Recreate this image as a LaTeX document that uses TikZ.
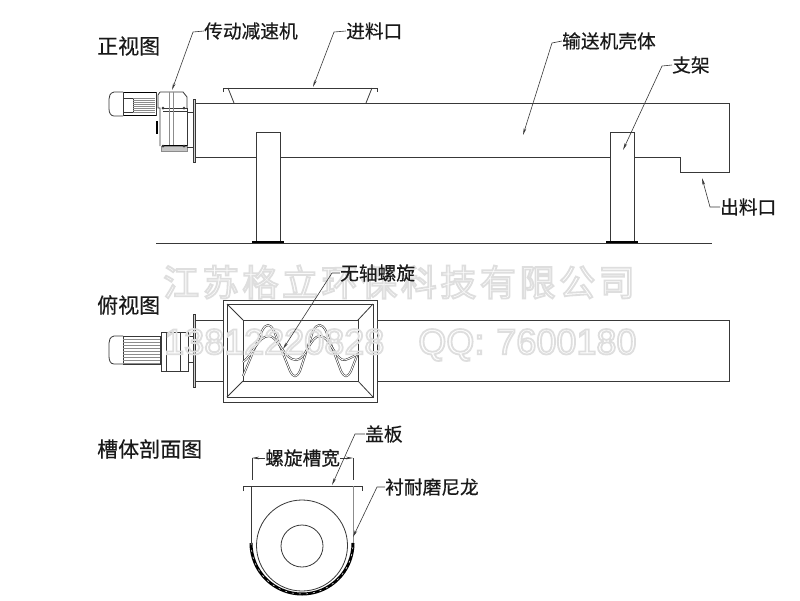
\documentclass[tikz,border=0pt]{standalone}
\usepackage{fontspec}
\setmainfont{Noto Sans CJK SC}
\newfontfamily\labfont[FakeBold=0.4]{Noto Sans CJK SC}
\newfontfamily\wmcjk[LetterSpace=10]{Noto Sans CJK SC}
\newfontfamily\wmlat{Liberation Sans}
\usetikzlibrary{arrows.meta}
\definecolor{ink}{gray}{0.22}
\definecolor{soft}{gray}{0.55}
\newcommand{\hollowon}{\special{pdf:code q 1 Tr 1.8 w 0.87 0.87 0.87 RG}}
\newcommand{\hollowoff}{\special{pdf:code Q}}
\tikzset{
  ln/.style={draw=ink,line width=0.8pt},
  thin ln/.style={draw=soft,line width=0.6pt},
  heavy/.style={draw=black,line width=1.6pt},
  leader/.style={draw=ink,line width=0.6pt,-{Stealth[length=7pt,width=2.6pt]}},
  lab/.style={anchor=west,inner sep=0pt,font=\labfont\fontsize{18.7}{19}\selectfont,text=black!90},
  ttl/.style={anchor=west,inner sep=0pt,font=\labfont\fontsize{21}{22}\selectfont,text=black!90},
}
\begin{document}
\begin{tikzpicture}[x=1pt,y=-1pt]
\useasboundingbox (0,0) rectangle (800,600);
\fill[white] (0,0) rectangle (800,600);

% ---- front view
\draw[ln] (156,243) -- (712,243);
\draw[ln] (196,103) -- (729,103) -- (729,172) -- (680,172) -- (680,157) -- (634,157);
\draw[ln] (610,157) -- (280,157);
\draw[ln] (256,157) -- (196,157);
\draw[ln,fill=white] (256,243) -- (256,132) -- (280,132) -- (280,243);
\draw[ln,fill=white] (610,243) -- (610,132) -- (634,132) -- (634,243);
\draw[heavy] (252,242) -- (284,242);
\draw[heavy] (606,242) -- (638,242);
\draw[ln] (223,92) -- (223,88) -- (377,88) -- (377,92);
\draw[ln] (228,88) -- (234,103);
\draw[ln] (372,88) -- (366,103);
\draw[ln,fill=soft!40] (193,99) rectangle (195.5,162);
% motor front
\draw[ln] (123,92) -- (114,92) .. controls (110,93) and (109,96) .. (109,99) -- (109,109) .. controls (109,113) and (111,116) .. (114,116) -- (123,116);
\draw[ln] (123,98) rectangle (133,112);
\draw[heavy] (123,92.5) -- (156,92.5);
\draw[heavy] (123,115.5) -- (156,115.5);
\draw[ln] (123,92) -- (123,116);
\draw[ln] (156,92) -- (156,116);
\foreach \yy in {98,100,...,112} \draw[thin ln] (133,\yy) -- (155,\yy);
% gearbox front
\draw[ln] (160,92) -- (183,92) -- (187,97) -- (187,108);
\draw[ln] (160,92) -- (158,95) -- (158,108) -- (160,108) -- (160,146);
\draw[ln] (163,108) -- (187,108);
\draw[ln] (163,111) -- (187,111);
\draw[ln] (187,108) -- (187,146);
\draw[thin ln] (169,92) -- (169,146);
\draw[thin ln] (173,92) -- (173,146);
\draw[heavy] (162,145.5) -- (187,145.5);
\draw[thin ln,fill=soft!50] (161,146) rectangle (187,151);
\draw[heavy] (157,121) -- (157,134);
\draw[ln] (187,112) -- (193,112);
\draw[ln] (187,147) -- (193,147);
\fill[ink] (163,108) circle (1.5) (184,108) circle (1.5) (163,146) circle (1.5) (184,146) circle (1.5);

% ---- top view
\draw[ln] (195,320) -- (223,320);
\draw[ln] (195,381) -- (223,381);
\draw[ln] (377,320) -- (729,320) -- (729,381) -- (377,381);
\draw[ln,fill=soft!40] (193,314) rectangle (195.5,387);
\draw[ln] (223,300) rectangle (377,402);
\draw[ln] (227,304) rectangle (373,397);
\draw[ln] (243,320) rectangle (358,381);
\draw[ln] (227,304) -- (243,320);
\draw[ln] (373,304) -- (358,320);
\draw[ln] (227,397) -- (243,381);
\draw[ln] (373,397) -- (358,381);
% screw
\draw[ink,line width=2pt,line join=round] (243,376) -- (262,331) .. controls (266,323) and (270,323) .. (274,331) -- (290,371) .. controls (294,378) and (296,378) .. (300,371) -- (313,331) .. controls (317,323) and (322,323) .. (326,331) -- (341,371) .. controls (345,378) and (347,378) .. (351,371) -- (358,353);
\draw[white,line width=0.9pt,line join=round] (243,376) -- (262,331) .. controls (266,323) and (270,323) .. (274,331) -- (290,371) .. controls (294,378) and (296,378) .. (300,371) -- (313,331) .. controls (317,323) and (322,323) .. (326,331) -- (341,371) .. controls (345,378) and (347,378) .. (351,371) -- (358,353);
\draw[ink,line width=2pt] (243,362) .. controls (252,356) and (258,336) .. (269,336) .. controls (278,336) and (284,360) .. (296,360) .. controls (306,360) and (310,336) .. (320,336) .. controls (330,336) and (336,362) .. (345,360) .. controls (351,358) and (354,356) .. (358,354);
\draw[white,line width=0.9pt] (243,362) .. controls (252,356) and (258,336) .. (269,336) .. controls (278,336) and (284,360) .. (296,360) .. controls (306,360) and (310,336) .. (320,336) .. controls (330,336) and (336,362) .. (345,360) .. controls (351,358) and (354,356) .. (358,354);
% motor top
\draw[ln] (123,336) -- (114,336) .. controls (110,337) and (109,340) .. (109,343) -- (109,356) .. controls (109,360) and (110,364) .. (114,364) -- (123,364);
\draw[ln] (123,336) rectangle (160,364);
\foreach \yy in {339,342,...,363} \draw[thin ln] (123,\yy) -- (160,\yy);
\draw[ln] (161,332) rectangle (188,371);
\draw[ln] (166,332) -- (166,371);
\draw[ln] (180,332) -- (180,371);
\draw[ln] (188,336) -- (193,336);
\draw[ln] (188,362) -- (193,362);

% ---- section view
\draw[ln] (243,491) -- (243,486) -- (362,486) -- (362,491);
\draw[ln] (251,486) -- (251,543);
\draw[thin ln] (353,486) -- (353,543);
\draw[ln] (302,545.5) circle (45.5);
\draw[ln] (302,546) circle (21);
\draw[black,line width=3pt] (251,543) arc[start angle=180,end angle=0,x radius=51,y radius=51];
\draw[white,line width=0.5pt,dash pattern=on 2pt off 5pt] (251,543) arc[start angle=180,end angle=0,x radius=51,y radius=51];

% ---- watermark (under the labels)
\node[anchor=west,inner sep=0pt] (wm1) at (163,282) {\hollowon\wmcjk\fontsize{36}{38}\selectfont 江苏格立环保科技有限公司\hollowoff};
\node[anchor=west,inner sep=0pt] (wm2) at (164,345) {\hollowon\wmlat\fontsize{36}{38}\selectfont 13812220828\hspace{34pt}QQ:\hspace{12pt}7600180\hollowoff};

% ---- labels and leaders
\node[ttl] (t1) at (97,46) {正视图};
\node[ttl] (t2) at (97,305) {俯视图};
\node[ttl] (t3) at (97,449) {槽体剖面图};

\node[lab] (l1) at (204,31) {传动减速机};
\coordinate (l1b) at (193,32); \coordinate (l1t) at (172,90);
\draw[leader] (l1.west) -- (l1b) -- (l1t);

\node[lab] (l2) at (346,31) {进料口};
\coordinate (l2b) at (334,32); \coordinate (l2t) at (313,87);
\draw[leader] (l2.west) -- (l2b) -- (l2t);

\node[lab] (l3) at (562,41) {输送机壳体};
\coordinate (l3b) at (552,43); \coordinate (l3t) at (523,135);
\draw[leader] (l3.west) -- (l3b) -- (l3t);

\node[lab] (l4) at (672,65) {支架};
\coordinate (l4b) at (662,66); \coordinate (l4t) at (623,150);
\draw[leader] (l4.west) -- (l4b) -- (l4t);

\node[lab] (l5) at (720,207) {出料口};
\coordinate (l5b) at (710,207); \coordinate (l5t) at (702,178);
\draw[leader] (l5.west) -- (l5b) -- (l5t);

\node[lab] (l6) at (340,273) {无轴螺旋};
\coordinate (l6b) at (332,273); \coordinate (l6t) at (283,349);
\draw[leader] (l6.west) -- (l6b) -- (l6t);

\node[lab] (l7) at (365,434) {盖板};
\coordinate (l7b) at (355,434); \coordinate (l7t) at (332,485);
\draw[leader] (l7.west) -- (l7b) -- (l7t);

\node[lab] (l8) at (385,487) {衬耐磨尼龙};
\coordinate (l8b) at (377,487); \coordinate (l8t) at (353,537);
\draw[leader] (l8.west) -- (l8b) -- (l8t);

\node[lab] (l9) at (265,458) {螺旋槽宽};
\coordinate (d1) at (252,458); \coordinate (d1e) at (252,480);
\coordinate (d2) at (353,458); \coordinate (d2e) at (353,480);
\draw[leader] (l9.west) -- (d1);
\draw[leader] (l9.east) -- (d2);
\draw[ln] (d1) -- (d1e);
\draw[ln] (d2) -- (d2e);
\end{tikzpicture}
\end{document}
